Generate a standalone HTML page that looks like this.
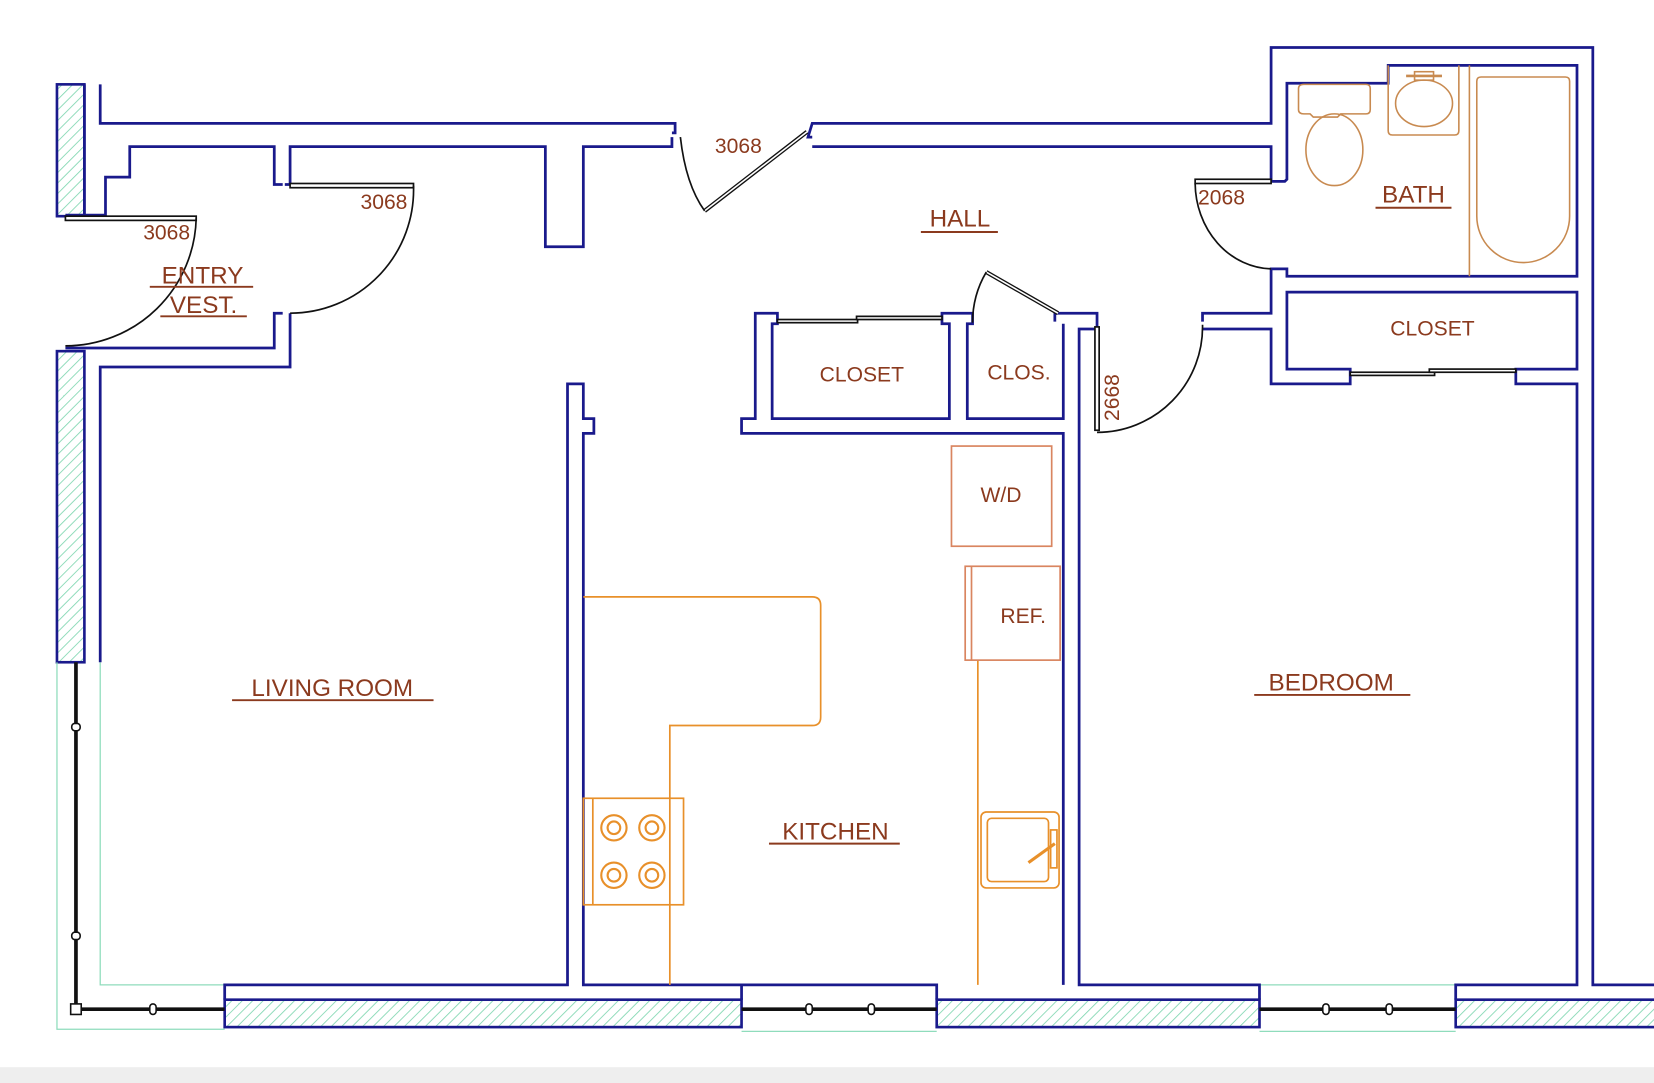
<!DOCTYPE html>
<html><head><meta charset="utf-8"><style>
html,body{margin:0;padding:0;background:#fff;}
svg{display:block;}
text{font-family:"Liberation Sans",sans-serif;fill:#8b3a1e;}
</style></head><body>
<svg width="1654" height="1083" viewBox="0 0 1568 1027" preserveAspectRatio="none" xmlns="http://www.w3.org/2000/svg">
<defs>
<pattern id="h" width="7" height="7" patternUnits="userSpaceOnUse" patternTransform="rotate(45)">
<line x1="0" y1="0" x2="0" y2="7" stroke="#7fd6b0" stroke-width="1.6"/>
</pattern>
</defs>
<rect x="0" y="1012" width="1568" height="15" fill="#eeeeee"/>
<!-- hatched exterior -->
<g stroke="#1a1a8c" stroke-width="2.5" fill="url(#h)">
<rect x="54" y="80" width="26" height="125"/>
<rect x="54" y="333" width="26" height="295"/>
<rect x="213" y="948" width="490" height="26"/>
<rect x="888" y="948" width="306" height="26"/>
<rect x="1380" y="948" width="200" height="26"/>
</g>
<!-- green thin window outlines -->
<g stroke="#8fdcbc" stroke-width="1.2" fill="none">
<polyline points="54,628 54,976 213,976"/>
<polyline points="95,628 95,934 213,934"/>
<line x1="703" y1="934" x2="888" y2="934"/><line x1="703" y1="978" x2="888" y2="978"/>
<line x1="1194" y1="934" x2="1380" y2="934"/><line x1="1194" y1="978" x2="1380" y2="978"/>
</g>
<!-- window sashes -->
<g stroke="#111" stroke-width="3.5" fill="none">
<polyline points="72,628 72,957 213,957"/>
<line x1="703" y1="957" x2="888" y2="957"/>
<line x1="1194" y1="957" x2="1380" y2="957"/>
</g>
<g fill="#fff" stroke="#111" stroke-width="1.5">
<rect x="68" y="686" width="8" height="7" rx="3"/><rect x="68" y="884" width="8" height="7" rx="3"/>
<rect x="67" y="952" width="10" height="10"/>
<rect x="142" y="952" width="6" height="10" rx="3"/>
<rect x="764" y="952" width="6" height="10" rx="3"/><rect x="823" y="952" width="6" height="10" rx="3"/>
<rect x="1254" y="952" width="6" height="10" rx="3"/><rect x="1314" y="952" width="6" height="10" rx="3"/>
</g>
<!-- walls -->
<g stroke="#1a1a8c" stroke-width="2.6" fill="none" stroke-linejoin="miter">
<polyline points="95,80 95,117 640,117 640,126 637,126"/>
<polyline points="62,204 100,204 100,168 123,168 123,139 260,139 260,175 268,175"/>
<polyline points="270,175 275,175 275,139 517,139 517,234 553,234 553,139 637,139 637,130"/>
<polyline points="80,80 80,204"/>
<polyline points="62,330 260,330 260,297 268,297"/>
<polyline points="95,628 95,348 275,348 275,297"/>
<polyline points="770,130 766,130 770,117 1205,117 1205,45 1510,45 1510,934 1568,934"/>
<polyline points="770,139 1205,139 1205,172 1218,172 1220,170 1220,79 1316,79 1316,62 1495,62 1495,262 1220,262 1220,255 1205,255 1205,297 1140,297 1140,305"/>
<polyline points="1140,312 1205,312 1205,364 1280,364 1280,350 1220,350 1220,277 1495,277 1495,350 1437,350 1437,364 1495,364 1495,934 1380,934 1380,948"/>
<polyline points="1194,948 1194,934 1023,934 1023,312 1040,312 1040,297 1000,297 1000,305"/>
<polyline points="1008,934 1008,411 703,411 703,397 716,397 716,297 737,297 737,307 732,307 732,397 900,397 900,307 893,307 893,297 922,297 922,307 917,307 917,397 1008,397 1008,307"/>
<polyline points="888,948 888,934 703,934 703,948"/>
<polyline points="213,948 213,934 538,934 538,364 553,364 553,397 563,397 563,411 553,411 553,934 703,934"/>
</g>
<!-- doors -->
<g stroke="#111" stroke-width="1.6" fill="none">
<rect x="62" y="205" width="124" height="4" fill="#fff"/>
<path d="M186,207 A124,124 0 0 1 62,328"/>
<rect x="275" y="174" width="117" height="4" fill="#fff"/>
<path d="M392,176 A117,117 0 0 1 275,297"/>
<path d="M668,200 L765,125" stroke-width="4"/><path d="M668,200 L765,125" stroke="#fff" stroke-width="1.5"/>
<path d="M645,130 Q650,175 668,200"/>
<rect x="1133" y="170" width="72" height="4" fill="#fff"/>
<path d="M1133,174 A74,82 0 0 0 1205,255"/>
<rect x="1038" y="310" width="4" height="98" fill="#fff"/>
<path d="M1140,308 A100,100 0 0 1 1040,410"/>
<path d="M935,258 L1003,297" stroke-width="4"/><path d="M935,258 L1003,297" stroke="#fff" stroke-width="1.5"/>
<path d="M935,258 Q922,280 922,306"/>
<rect x="737" y="303" width="76" height="3" fill="#fff"/><rect x="812" y="300" width="81" height="3" fill="#fff"/>
<rect x="1280" y="353" width="80" height="3" fill="#fff"/><rect x="1355" y="350" width="82" height="3" fill="#fff"/>
</g>
<!-- fixtures -->
<g stroke="#e8902a" stroke-width="1.6" fill="none">
<path d="M553,566 H770 Q778,566 778,574 V680 Q778,688 770,688 H635 V934"/>
<rect x="553" y="757" width="95" height="101"/><line x1="562" y1="757" x2="562" y2="858"/>
<g stroke-width="2">
<circle cx="582" cy="785" r="12"/><circle cx="618" cy="785" r="12"/>
<circle cx="582" cy="830" r="12"/><circle cx="618" cy="830" r="12"/>
<circle cx="582" cy="785" r="6"/><circle cx="618" cy="785" r="6"/>
<circle cx="582" cy="830" r="6"/><circle cx="618" cy="830" r="6"/>
</g>
<rect x="930" y="770" width="74" height="72" rx="5"/><rect x="936" y="776" width="58" height="60" rx="4"/>
<line x1="975" y1="818" x2="1000" y2="800" stroke-width="3"/>
<rect x="996" y="787" width="6" height="36"/>
<line x1="927" y1="626" x2="927" y2="934"/>
</g>
<g stroke="#d98560" stroke-width="1.6" fill="none">
<rect x="902" y="423" width="95" height="95"/>
<rect x="915" y="537" width="90" height="89"/><line x1="921" y1="537" x2="921" y2="626"/>
</g>
<g stroke="#c88a50" stroke-width="1.5" fill="none">
<path d="M1236,80 H1295 Q1299,80 1299,84 V104 Q1299,108 1295,108 H1271 L1268,111 H1245 L1242,108 H1236 Q1231,108 1231,104 V84 Q1231,80 1236,80Z"/>
<ellipse cx="1265" cy="142" rx="27" ry="34"/>
<path d="M1316,62 V124 Q1316,128 1320,128 H1379 Q1383,128 1383,124 V62"/>
<ellipse cx="1350" cy="98" rx="27" ry="22"/>
<line x1="1333" y1="72" x2="1367" y2="72" stroke-width="2.5"/>
<rect x="1341" y="68" width="18" height="8"/>
<line x1="1393" y1="62" x2="1393" y2="262"/>
<path d="M1404,73 H1484 Q1488,73 1488,77 V205 A44,44 0 0 1 1400,205 V77 Q1400,73 1404,73Z"/>
</g>
<!-- labels -->
<g font-size="23" text-anchor="middle">
<text x="910" y="215">HALL</text><line x1="873" y1="220" x2="946" y2="220" stroke="#8b3a1e" stroke-width="1.8"/>
<text x="1340" y="192">BATH</text><line x1="1304" y1="197" x2="1376" y2="197" stroke="#8b3a1e" stroke-width="1.8"/>
<text x="315" y="660">LIVING  ROOM</text><line x1="220" y1="664" x2="411" y2="664" stroke="#8b3a1e" stroke-width="1.8"/>
<text x="792" y="796">KITCHEN</text><line x1="729" y1="800" x2="853" y2="800" stroke="#8b3a1e" stroke-width="1.8"/>
<text x="1262" y="655">BEDROOM</text><line x1="1189" y1="659" x2="1337" y2="659" stroke="#8b3a1e" stroke-width="1.8"/>
<text x="192" y="269">ENTRY</text><line x1="142" y1="272" x2="240" y2="272" stroke="#8b3a1e" stroke-width="1.8"/>
<text x="193" y="297">VEST.</text><line x1="152" y1="300" x2="234" y2="300" stroke="#8b3a1e" stroke-width="1.8"/>
</g>
<g font-size="20" text-anchor="middle">
<text x="817" y="362">CLOSET</text>
<text x="966" y="360">CLOS.</text>
<text x="1358" y="318">CLOSET</text>
<text x="949" y="476">W/D</text>
<text x="970" y="591">REF.</text>
</g>
<g font-size="20" text-anchor="middle">
<text x="158" y="227">3068</text>
<text x="364" y="198">3068</text>
<text x="700" y="145">3068</text>
<text x="1158" y="194">2068</text>
<text x="0" y="0" transform="translate(1061,377) rotate(-90)">2668</text>
</g>
</svg>
</body></html>
